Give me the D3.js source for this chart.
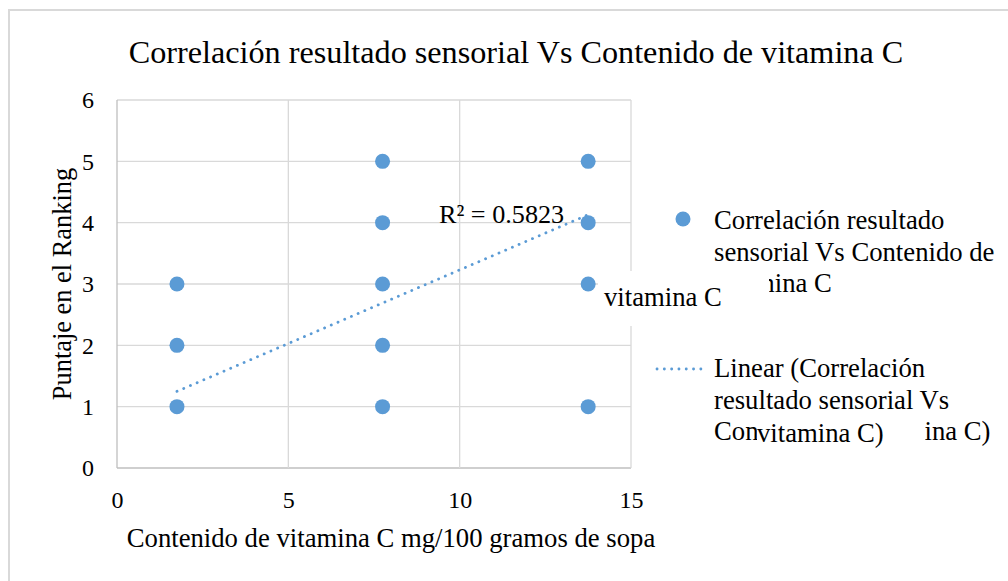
<!DOCTYPE html>
<meta charset="utf-8">
<style>
body { margin: 0; background: #fff; }
svg text { font-family: "Liberation Serif", "Times New Roman", serif; fill: #000; }
.grid line { stroke: #d9d9d9; stroke-width: 1.3; }
.axis path, .axis line { stroke: none; }
.dot { fill: #5b9bd5; }
.trend { fill: none; stroke: #5b9bd5; stroke-width: 2.8; stroke-dasharray: 0.1 7.2; stroke-linecap: round; }
</style>
<body>
<div id="chart"></div>
<script src="https://d3js.org/d3.v7.min.js"></script>
<script>
// data
var vitaminC = [1.75, 1.75, 1.75, 7.75, 7.75, 7.75, 7.75, 7.75, 13.75, 13.75, 13.75, 13.75];
var ranking  = [1, 2, 3, 1, 2, 3, 4, 5, 1, 3, 4, 5];
var trendSlope = 0.24, trendIntercept = 0.83, rSquared = "0.5823";
var xTicks = [0, 5, 10, 15];
var yTicks = [0, 1, 2, 3, 4, 5, 6];
var seriesName = "Correlación resultado sensorial Vs Contenido de vitamina C";

var W = 1008, H = 581;
var margin = { top: 100, left: 117, right: 377, bottom: 113 };
var width = W - margin.left - margin.right,
    height = H - margin.top - margin.bottom;

var svg = d3.select("#chart").append("svg")
    .attr("width", W).attr("height", H);

function label(parent, x, y, str, size, anchor, rot) {
    return parent.append("text")
        .attr("transform", "translate(" + x + "," + y + ")" + (rot ? " rotate(" + rot + ")" : ""))
        .style("font-size", size + "px")
        .attr("text-anchor", anchor || "start")
        .text(str);
}

// outer frame
svg.append("rect")
    .attr("x", 9).attr("y", 10).attr("width", 1010).attr("height", 590)
    .attr("fill", "none").attr("stroke", "#d9d9d9").attr("stroke-width", 2);

label(svg, 516, 63, seriesName, 32.2, "middle");

var g = svg.append("g").attr("transform", "translate(" + margin.left + "," + margin.top + ")");

var x = d3.scaleLinear().domain([0, 15]).range([0, width]);
var y = d3.scaleLinear().domain([0, 6]).range([height, 0]);

// gridlines
g.append("g").attr("class", "grid")
  .selectAll("line").data(yTicks).enter().append("line")
    .attr("x1", 0).attr("x2", width)
    .attr("y1", function(d) { return y(d); }).attr("y2", function(d) { return y(d); })
    .style("stroke", function(d) { return d === 0 ? "#bfbfbf" : null; });
g.append("g").attr("class", "grid")
  .selectAll("line").data(xTicks).enter().append("line")
    .attr("y1", 0).attr("y2", height)
    .attr("x1", function(d) { return x(d); }).attr("x2", function(d) { return x(d); })
    .style("stroke", function(d) { return d === 0 ? "#bfbfbf" : null; });

// axes
g.append("g").attr("class", "axis")
    .attr("transform", "translate(0," + height + ")")
    .call(d3.axisBottom(x).tickValues(xTicks).tickFormat(d3.format("d")).tickSize(0).tickPadding(23))
    .selectAll("text").style("font-size", "24px").style("font-family", "Liberation Serif");
g.append("g").attr("class", "axis")
    .call(d3.axisLeft(y).tickValues(yTicks).tickFormat(d3.format("d")).tickSize(0).tickPadding(23))
    .selectAll("text").style("font-size", "24px").style("font-family", "Liberation Serif");

// trendline
var xs = d3.extent(vitaminC);
g.append("path").attr("class", "trend")
    .datum(xs)
    .attr("d", d3.line()
        .x(function(d) { return x(d); })
        .y(function(d) { return y(trendIntercept + trendSlope * d); }));

// points
g.selectAll(".dot").data(vitaminC).enter().append("circle")
    .attr("class", "dot")
    .attr("cx", function(d) { return x(d); })
    .attr("cy", function(d, i) { return y(ranking[i]); })
    .attr("r", 7.5);

label(svg, 439, 223, "R² = " + rSquared, 26.2);

// axis titles
label(svg, 391, 547, "Contenido de vitamina C mg/100 gramos de sopa", 26.7, "middle");
label(svg, 71, 284, "Puntaje en el Ranking", 26.4, "middle", -90);

// legend
var leg = svg.append("g");
leg.append("circle").attr("class", "dot").attr("cx", 683).attr("cy", 219).attr("r", 7.5);
var l1 = ["Correlación resultado", "sensorial Vs Contenido de", "vitamina C"];
l1.forEach(function(s, i) { label(leg, 714, 229 + i * 31.5, s, 26.7); });
leg.append("line").attr("class", "trend")
    .attr("x1", 657).attr("x2", 706).attr("y1", 369).attr("y2", 369);
var l2 = ["Linear (Correlación", "resultado sensorial Vs", "Contenido de vitamina C)"];
l2.forEach(function(s, i) { label(leg, 714, 377 + i * 31.5, s, 26.7); });

// overlapping wrapped labels (as in the original)
svg.append("rect").attr("x", 598).attr("y", 271).attr("width", 171).attr("height", 55).attr("fill", "#fff");
label(svg, 604, 306, "vitamina C", 26.7);
svg.append("rect").attr("x", 757).attr("y", 416).attr("width", 168).attr("height", 38).attr("fill", "#fff");
label(svg, 757, 442, "vitamina C)", 26.7);
</script>
</body>
